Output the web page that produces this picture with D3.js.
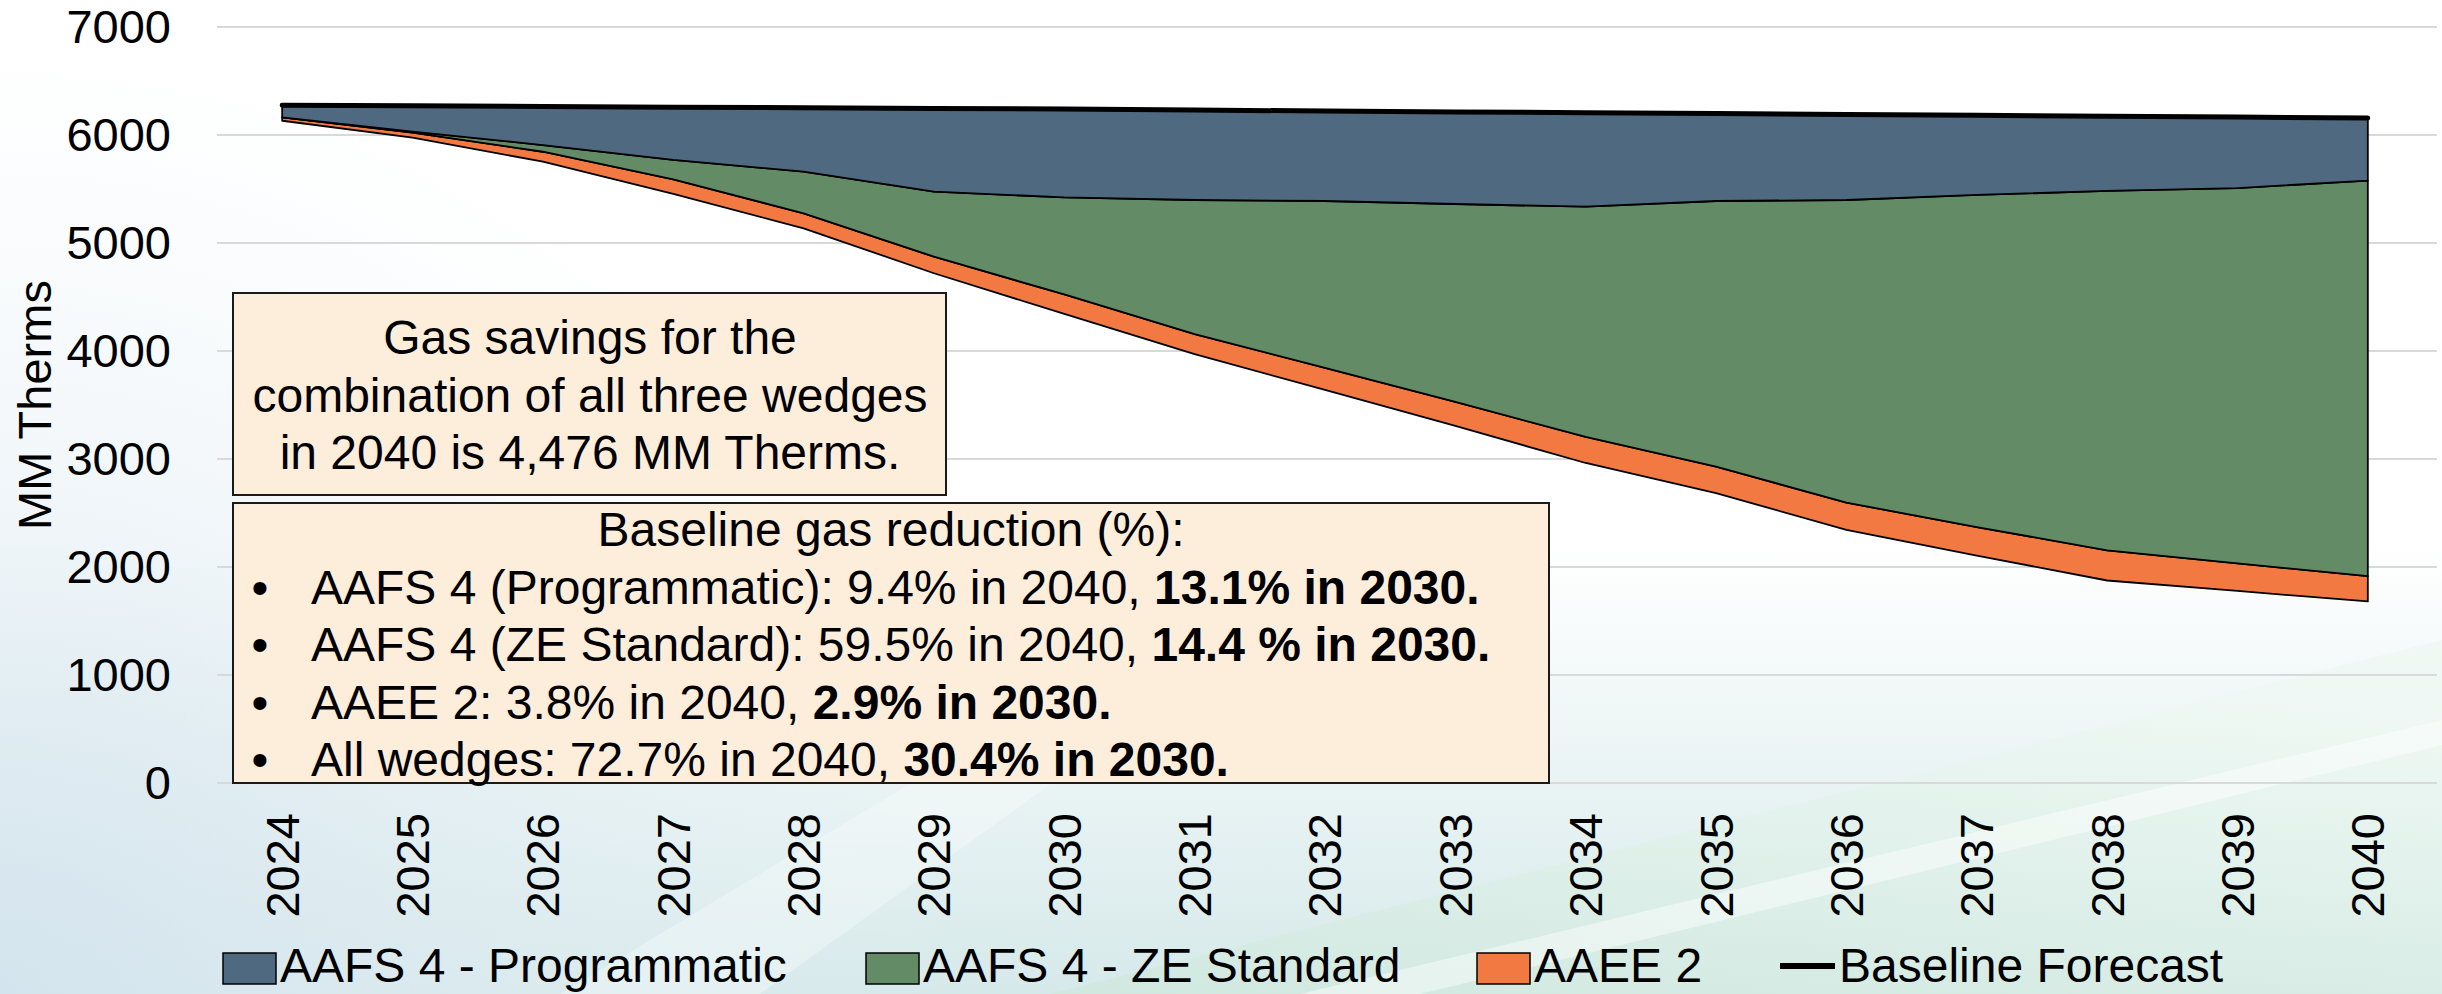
<!DOCTYPE html>
<html>
<head>
<meta charset="utf-8">
<script src="https://cdn.jsdelivr.net/npm/d3@7"></script>
<style>
  html, body { margin: 0; padding: 0; background: #fff; }
  svg { display: block; font-family: "Liberation Sans", Arial, sans-serif; }
</style>
</head>
<body>
<svg id="chart" width="2442" height="994"></svg>
<script>
// Chart data (MM Therms)
const years = [2024, 2025, 2026, 2027, 2028, 2029, 2030, 2031, 2032, 2033, 2034, 2035, 2036, 2037, 2038, 2039, 2040];
const baselineForecast = [6275, 6270, 6265, 6258, 6252, 6246, 6240, 6231, 6222, 6214, 6206, 6198, 6190, 6182, 6174, 6166, 6157];
const remaining = [6132, 5975, 5753, 5454, 5136, 4720, 4343, 3972, 3639, 3306, 2963, 2685, 2343, 2106, 1875, 1778, 1681];
const aaee2 = [32, 48, 92, 136, 139, 153, 181, 185, 204, 222, 241, 245, 253, 264, 279, 255, 234];
const zeStandard = [0, 8, 62, 179, 385, 602, 899, 1241, 1546, 1833, 2132, 2459, 2802, 3075, 3328, 3476, 3663];
const programmatic = [111, 239, 358, 489, 592, 771, 817, 833, 833, 853, 870, 809, 792, 737, 692, 657, 579];
const yTicks = [0, 1000, 2000, 3000, 4000, 5000, 6000, 7000];

const seriesLabels = ["AAFS 4 - Programmatic", "AAFS 4 - ZE Standard", "AAEE 2", "Baseline Forecast"];

const summaryLines = ["Gas savings for the", "combination of all three wedges", "in 2040 is 4,476 MM Therms."];
const reductionTitle = "Baseline gas reduction (%):";
const reductionLines = [
    ["AAFS 4 (Programmatic): 9.4% in 2040, ", "13.1% in 2030."],
    ["AAFS 4 (ZE Standard): 59.5% in 2040, ", "14.4 % in 2030."],
    ["AAEE 2: 3.8% in 2040, ", "2.9% in 2030."],
    ["All wedges: 72.7% in 2040, ", "30.4% in 2030."]
];

const colors = { prog: "#4E6980", ze: "#628B66", aaee: "#F27942" };

const svg = d3.select("#chart");
const W = 2442, H = 994;

// Background: white slide fading to pale blue / mint towards the bottom
const defs = svg.append("defs");
const bg = defs.append("linearGradient").attr("id", "bg").attr("x1", 0).attr("y1", 0).attr("x2", 0).attr("y2", 1);
bg.append("stop").attr("offset", "0.55").attr("stop-color", "#ffffff");
bg.append("stop").attr("offset", "1").attr("stop-color", "#d6e9ea");
const corner = defs.append("radialGradient").attr("id", "corner")
    .attr("gradientUnits", "userSpaceOnUse").attr("cx", 0).attr("cy", 994).attr("r", 950);
corner.append("stop").attr("offset", "0").attr("stop-color", "#d4e4ee").attr("stop-opacity", 0.95);
corner.append("stop").attr("offset", "1").attr("stop-color", "#e8f1f6").attr("stop-opacity", 0);
const mint = defs.append("linearGradient").attr("id", "mint").attr("x1", 0).attr("y1", 1).attr("x2", 0.4).attr("y2", 0);
mint.append("stop").attr("offset", "0").attr("stop-color", "#cfe8de");
mint.append("stop").attr("offset", "1").attr("stop-color", "#eef8f3");

svg.append("rect").attr("width", W).attr("height", H).attr("fill", "url(#bg)");
svg.append("rect").attr("width", W).attr("height", H).attr("fill", "url(#corner)");
svg.append("polygon").attr("points", "1050,994 2442,640 2442,994").attr("fill", "url(#mint)").attr("opacity", 0.85);
svg.append("polygon").attr("points", "1300,994 2442,720 2442,745 1420,994").attr("fill", "#ffffff").attr("opacity", 0.45);
svg.append("polygon").attr("points", "560,994 1150,640 1250,640 760,994").attr("fill", "#ffffff").attr("opacity", 0.3);

// Scales
const plotLeft = 217, plotRight = 2433, plotTop = 27, plotBottom = 783;
const x = d3.scaleBand().domain(years).range([plotLeft, plotRight]);
const cx = d => x(d) + x.bandwidth() / 2;
const y = d3.scaleLinear().domain([0, 7000]).range([plotBottom, plotTop]);

// Gridlines
svg.append("g")
    .selectAll("line")
    .data(yTicks)
    .join("line")
    .attr("x1", plotLeft)
    .attr("x2", plotRight + 4)
    .attr("y1", d => y(d))
    .attr("y2", d => y(d))
    .attr("stroke", "#d9d9d9")
    .attr("stroke-width", 2);

// Y axis labels
const yAxis = svg.append("g")
    .attr("transform", `translate(${plotLeft},0)`)
    .call(d3.axisLeft(y).tickValues(yTicks).tickSize(0).tickPadding(46).tickFormat(d3.format("d")));
yAxis.select(".domain").remove();
yAxis.selectAll("text")
    .attr("font-size", 47)
    .attr("fill", "#000")
    .attr("font-family", "Liberation Sans, Arial, sans-serif");

// X axis labels (rotated)
svg.append("g")
    .selectAll("text")
    .data(years)
    .join("text")
    .attr("transform", d => `translate(${cx(d)},813) rotate(-90)`)
    .attr("text-anchor", "end")
    .attr("dy", "0.35em")
    .attr("font-size", 47)
    .attr("fill", "#000")
    .text(d => d);

// Y axis title
svg.append("text")
    .attr("transform", "translate(51,405) rotate(-90)")
    .attr("text-anchor", "middle")
    .attr("font-size", 47)
    .attr("fill", "#000")
    .text("MM Therms");

// Stacked areas; the bottom "remaining" layer is left unfilled
const table = years.map((yr, i) => ({
    year: yr,
    remaining: remaining[i],
    aaee: aaee2[i],
    ze: zeStandard[i],
    prog: programmatic[i]
}));
const stack = d3.stack().keys(["remaining", "aaee", "ze", "prog"]);
const layers = stack(table);

const area = d3.area()
    .x(d => cx(d.data.year))
    .y0(d => y(d[0]))
    .y1(d => y(d[1]));

svg.append("g")
    .selectAll("path")
    .data(layers.filter(l => l.key !== "remaining"))
    .join("path")
    .attr("d", area)
    .attr("fill", d => colors[d.key])
    .attr("stroke", "#000")
    .attr("stroke-width", 1.8)
    .attr("stroke-linejoin", "round");

// Baseline forecast line
const line = d3.line()
    .x((d, i) => cx(years[i]))
    .y(d => y(d));

svg.append("path")
    .datum(baselineForecast)
    .attr("d", line)
    .attr("fill", "none")
    .attr("stroke", "#000")
    .attr("stroke-width", 5)
    .attr("stroke-linecap", "round");

// Annotation boxes
const boxFill = "#FDEEDC";
const box1 = svg.append("g");
box1.append("rect")
    .attr("x", 233).attr("y", 293).attr("width", 713).attr("height", 202)
    .attr("fill", boxFill).attr("stroke", "#1a1a1a").attr("stroke-width", 2);
box1.selectAll("text")
    .data(summaryLines)
    .join("text")
    .attr("x", 590)
    .attr("y", (d, i) => 354 + i * 57.5)
    .attr("text-anchor", "middle")
    .attr("font-size", 48)
    .attr("fill", "#000")
    .text(d => d);

const box2 = svg.append("g");
box2.append("rect")
    .attr("x", 233).attr("y", 503).attr("width", 1316).attr("height", 280)
    .attr("fill", boxFill).attr("stroke", "#1a1a1a").attr("stroke-width", 2);
box2.append("text")
    .attr("x", 891)
    .attr("y", 546)
    .attr("text-anchor", "middle")
    .attr("font-size", 48)
    .attr("fill", "#000")
    .text(reductionTitle);

const rows = box2.selectAll("g.row")
    .data(reductionLines)
    .join("g")
    .attr("class", "row")
    .attr("transform", (d, i) => `translate(0,${603.5 + i * 57.5})`);
rows.append("text")
    .attr("x", 260)
    .attr("text-anchor", "middle")
    .attr("font-size", 48)
    .text("•");
const rowText = rows.append("text")
    .attr("x", 311)
    .attr("font-size", 48)
    .attr("fill", "#000");
rowText.append("tspan").text(d => d[0]);
rowText.append("tspan").attr("font-weight", "bold").text(d => d[1]);

// Legend
const legendY = 982;
const legend = svg.append("g");
const legendItems = [
    { label: seriesLabels[0], color: colors.prog, x: 223 },
    { label: seriesLabels[1], color: colors.ze, x: 866 },
    { label: seriesLabels[2], color: colors.aaee, x: 1477 }
];
legend.selectAll("rect")
    .data(legendItems)
    .join("rect")
    .attr("x", d => d.x)
    .attr("y", legendY - 29)
    .attr("width", 53)
    .attr("height", 31)
    .attr("fill", d => d.color)
    .attr("stroke", "#000")
    .attr("stroke-width", 1.5);
legend.selectAll("text.item")
    .data(legendItems)
    .join("text")
    .attr("class", "item")
    .attr("x", d => d.x + 57)
    .attr("y", legendY)
    .attr("font-size", 48)
    .attr("fill", "#000")
    .text(d => d.label);
legend.append("line")
    .attr("x1", 1780).attr("x2", 1835)
    .attr("y1", legendY - 16).attr("y2", legendY - 16)
    .attr("stroke", "#000").attr("stroke-width", 6);
legend.append("text")
    .attr("x", 1839)
    .attr("y", legendY)
    .attr("font-size", 48)
    .attr("fill", "#000")
    .text(seriesLabels[3]);
</script>
</body>
</html>
